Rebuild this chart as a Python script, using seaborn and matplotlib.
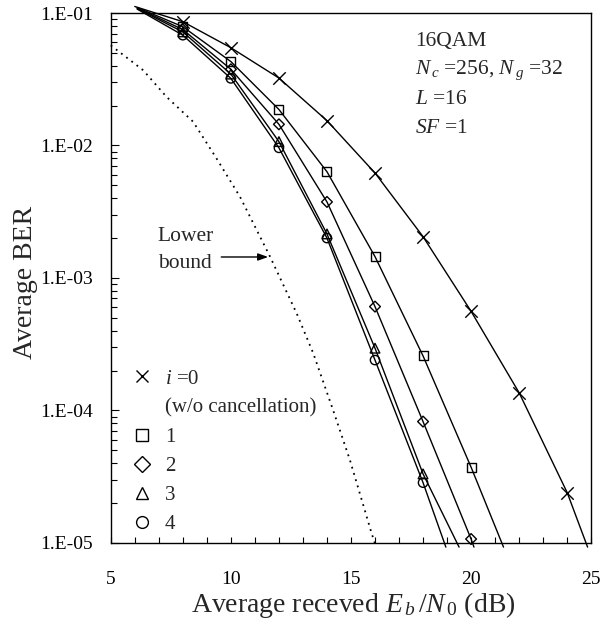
import matplotlib
matplotlib.use("Agg")
import matplotlib.pyplot as plt
import matplotlib.ticker as mticker
from matplotlib.lines import Line2D
import numpy as np
import pandas as pd
import seaborn as sns

# ── Data ─────────────────────────────────────────────────────────────────
SNR_MARK = [8, 10, 12, 14, 16, 18, 20, 22, 24]

BER_I0 = [0.086, 0.0547, 0.0323, 0.0154, 0.0062, 0.00205, 5.6e-4, 1.36e-4, 2.4e-5]
BER_I1 = [0.0788, 0.043, 0.0187, 0.00634, 0.00145, 2.58e-4, 3.73e-5]
BER_I2 = [0.075, 0.0376, 0.01445, 0.00375, 6.08e-4, 8.24e-5, 1.07e-5]
BER_I3 = [0.072, 0.0346, 0.0107, 0.00215, 2.95e-4, 3.32e-5]
BER_I4 = [0.068, 0.0321, 0.0096, 0.0020, 2.4e-4, 2.85e-5]

# where each solid curve starts (upper left) and leaves the frame (bottom)
START_SNR = [6.0, 6.1, 6.1, 6.1, 6.1]
START_BER = [0.112, 0.110, 0.109, 0.108, 0.107]
END_SNR = [24.85, 21.35, 20.12, 19.5, 18.95]
END_BER = [9.3e-6, 9.3e-6, 9.3e-6, 9.3e-6, 9.3e-6]

LB_SNR = [5.0, 6.35, 7.32, 8.43, 9.40, 10.38, 11.63, 12.74, 13.43, 14.26, 14.96, 15.86, 16.05]
LB_BER = [0.057, 0.037, 0.0233, 0.0151, 0.008, 0.0041, 0.00145, 5.4e-4, 2.7e-4, 1.0e-4,
          4.2e-5, 1.18e-5, 9.3e-6]

CURVES = ["i=0", "1", "2", "3", "4"]
MARKERS = ["x", "s", "D", "^", "o"]
BERS = [BER_I0, BER_I1, BER_I2, BER_I3, BER_I4]

# ── Style ────────────────────────────────────────────────────────────────
sns.set_theme(style="ticks")
plt.rcParams["font.family"] = ["Liberation Serif", "DejaVu Serif"]
plt.rcParams["mathtext.fontset"] = "custom"
plt.rcParams["mathtext.rm"] = "Liberation Serif"
plt.rcParams["mathtext.it"] = "Liberation Serif:italic"

fig, ax = plt.subplots(figsize=(6.12, 6.35), dpi=100)
fig.subplots_adjust(left=0.181, right=0.966, bottom=0.145, top=0.9795)

# ── Solid curves ─────────────────────────────────────────────────────────
rows = []
for k, (name, ber) in enumerate(zip(CURVES, BERS)):
    xs = [START_SNR[k]] + SNR_MARK[:len(ber)] + [END_SNR[k]]
    ys = [START_BER[k]] + list(ber) + [END_BER[k]]
    rows += [(name, x, y) for x, y in zip(xs, ys)]
lines = pd.DataFrame(rows, columns=["curve", "snr", "ber"])

sns.lineplot(data=lines, x="snr", y="ber", units="curve", estimator=None,
             color="black", lw=1.0, sort=False, ax=ax, legend=False, clip_on=False)

# lower bound, dotted
sns.lineplot(x=LB_SNR, y=LB_BER, color="black", lw=1.3, ax=ax, sort=False,
             linestyle=(0, (1, 2.6)), clip_on=False)

# markers
for name, m, ber in zip(CURVES, MARKERS, BERS):
    x = SNR_MARK[:len(ber)]
    if m == "x":
        sns.scatterplot(x=x, y=ber, marker=m, s=80, color="black", linewidth=1.0,
                        ax=ax, zorder=3, clip_on=False)
    else:
        sz = {"s": 42, "D": 30, "^": 48, "o": 45}[m]
        sns.scatterplot(x=x, y=ber, marker=m, s=sz, facecolor="none",
                        edgecolor="black", linewidth=1.0, ax=ax, zorder=3, clip_on=False)

# ── Axes ─────────────────────────────────────────────────────────────────
ax.set_yscale("log")
ax.set_xlim(5, 25)
ax.set_ylim(1e-5, 1e-1)
ax.xaxis.set_major_locator(mticker.MultipleLocator(5))
ax.xaxis.set_minor_locator(mticker.MultipleLocator(1))
ax.yaxis.set_major_locator(mticker.LogLocator(base=10, numticks=10))
ax.yaxis.set_minor_locator(mticker.LogLocator(base=10, subs=np.arange(2, 10), numticks=20))
ax.yaxis.set_minor_formatter(mticker.NullFormatter())
ax.yaxis.set_major_formatter(mticker.FuncFormatter(
    lambda v, p: "1.E-%02d" % round(-np.log10(v))))

ax.tick_params(axis="both", which="both", direction="in", colors="black", labelsize=14)
ax.tick_params(axis="x", which="major", length=4.5, width=0.8, pad=20)
ax.tick_params(axis="x", which="minor", length=4.5, width=0.8)
ax.tick_params(axis="y", which="major", length=6, width=0.8, pad=13)
ax.tick_params(axis="y", which="minor", length=4, width=0.8)
for s in ax.spines.values():
    s.set_visible(True)
    s.set_color("black")
    s.set_linewidth(1.0)

ax.set_xlabel(r"Average receved $E_{\,b}\,/N_{\,0}$ (dB)", fontsize=20)
ax.set_ylabel("Average BER", fontsize=20)
ax.xaxis.set_label_coords(0.504, -0.088)
ax.yaxis.set_label_coords(-0.152, 0.4915)

# ── Annotations ──────────────────────────────────────────────────────────
info = ["16QAM", r"$N_{\,c}$ =256, $N_{\,g}$ =32", r"$L$ =16", r"$SF$ =1"]
for j, t in enumerate(info):
    ax.text(0.633, 0.947 - j * 0.055, t, transform=ax.transAxes,
            ha="left", va="center", fontsize=15.5)

ax.text(6.95, 1.62e-3, "Lower\nbound", ha="left", va="center", fontsize=15.5,
        linespacing=1.6)
ax.annotate("", xy=(11.55, 1.44e-3), xytext=(9.6, 1.44e-3),
            arrowprops=dict(arrowstyle="-|>,head_length=0.5,head_width=0.18",
                            color="black", lw=1.0, shrinkA=0, shrinkB=0))

# legend
handles = []
for m in MARKERS:
    handles.append(Line2D([], [], ls="none", marker=m, color="black",
                          mfc="none", mec="black", ms=8.5, mew=1.0))
handles.insert(1, Line2D([], [], ls="none"))
labels = [r"$i$ =0", "(w/o cancellation)", "1", "2", "3", "4"]
ax.legend(handles, labels, loc="lower left", bbox_to_anchor=(0.043, 0.016),
          frameon=False, fontsize=15, handlelength=1.0, handletextpad=0.6,
          borderpad=0, borderaxespad=0, labelspacing=0.46)

fig.savefig("out.png", dpi=100)
